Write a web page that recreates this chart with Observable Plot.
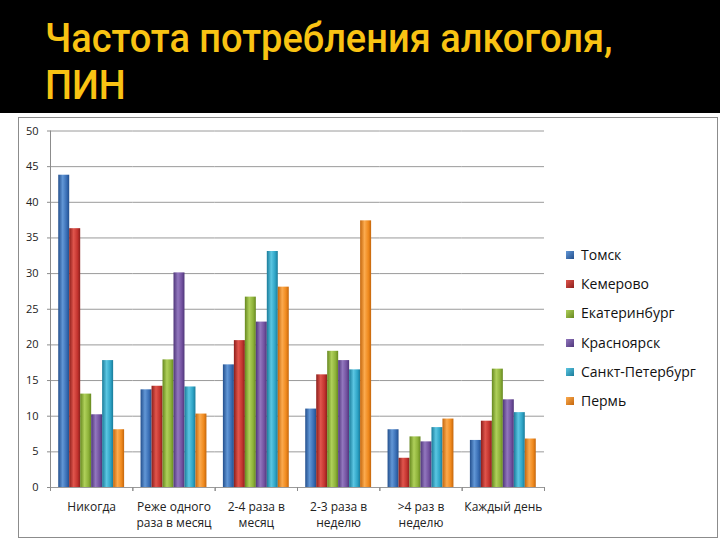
<!DOCTYPE html>
<html><head><meta charset="utf-8">
<script src="https://cdn.jsdelivr.net/npm/d3@7"></script>
<script src="https://cdn.jsdelivr.net/npm/@observablehq/plot@0.6"></script>
<style>
html,body{margin:0;padding:0;background:#fff;}
#page{position:relative;width:720px;height:540px;overflow:hidden;font-family:"Open Sans",sans-serif;background:#fff;}
#header{position:absolute;left:0;top:0;width:720px;height:113px;background:#000;}
.tline{position:absolute;left:45px;color:#F9C313;font-family:Roboto,sans-serif;font-size:40px;font-weight:500;line-height:46px;height:46px;white-space:nowrap;transform:scaleX(0.95);transform-origin:0 0;}
#t1{top:16px;}
#t2{top:63px;}
#box{position:absolute;left:18px;top:117px;width:700px;height:421px;border:1px solid #8c8c8c;box-sizing:border-box;}
#chart{position:absolute;left:0;top:113px;}
#legend{position:absolute;left:566px;top:240px;font-size:14px;color:#111;}
#legend div{height:29.2px;line-height:29.2px;white-space:nowrap;}
#legend span.sw{display:inline-block;width:8px;height:8px;margin-right:7px;vertical-align:middle;position:relative;top:-1px;}
#defs{position:absolute;width:0;height:0;}
</style></head>
<body>
<div id="page">
  <div id="header"><div class="tline" id="t1">Частота потребления алкоголя,</div><div class="tline" id="t2">ПИН</div></div>
  <div id="box"></div>
  <svg id="defs"><defs id="gdefs"></defs></svg>
  <div id="chart"></div>
  <div id="legend"></div>
</div>
<script>
const categories = ["Никогда","Реже одного раза в месяц","2-4 раза в месяц","2-3 раза в неделю",">4 раз в неделю","Каждый день"];
const tickLabels = ["Никогда","Реже одного\nраза в месяц","2-4 раза в\nмесяц","2-3 раза в\nнеделю",">4 раз в\nнеделю","Каждый день"];
const cities = ["Томск","Кемерово","Екатеринбург","Красноярск","Санкт-Петербург","Пермь"];
const tomsk        = [43.8, 13.7, 17.2, 11.0, 8.1, 6.6];
const kemerovo     = [36.3, 14.2, 20.6, 15.8, 4.1, 9.3];
const ekaterinburg = [13.1, 17.9, 26.7, 19.1, 7.1, 16.6];
const krasnoyarsk  = [10.2, 30.1, 23.2, 17.8, 6.4, 12.3];
const spb          = [17.8, 14.1, 33.1, 16.5, 8.4, 10.5];
const perm         = [8.1, 10.3, 28.1, 37.4, 9.6, 6.8];
const yTicks = [0, 5, 10, 15, 20, 25, 30, 35, 40, 45, 50];
const baseColors  = ["#3A6FB6", "#C3342F", "#8EB23A", "#7352A0", "#2FA5C7", "#F08A1E"];
const darkColors  = ["#234F8D", "#8C1E1B", "#66881F", "#4F367A", "#1A7B99", "#C4660C"];
const lightColors = ["#6297D6", "#E0554C", "#AFD05A", "#9277BE", "#5BC6E2", "#FBAA4E"];

// gradients for the bar shading
const defs = d3.select("#gdefs");
cities.forEach((c, j) => {
  const g = defs.append("linearGradient").attr("id", "g" + j).attr("x1", 0).attr("x2", 1).attr("y1", 0).attr("y2", 0);
  g.append("stop").attr("offset", "0%").attr("stop-color", darkColors[j]);
  g.append("stop").attr("offset", "40%").attr("stop-color", lightColors[j]);
  g.append("stop").attr("offset", "75%").attr("stop-color", baseColors[j]);
  g.append("stop").attr("offset", "100%").attr("stop-color", darkColors[j]);
});
const fills = cities.map((c, j) => `url(#g${j})`);

const series = [tomsk, kemerovo, ekaterinburg, krasnoyarsk, spb, perm];
const data = [];
categories.forEach((cat, i) => cities.forEach((city, j) => data.push({category: cat, city, value: series[j][i]})));

const chart = Plot.plot({
  width: 720, height: 427,
  marginTop: 17.5, marginBottom: 53, marginLeft: 50, marginRight: 176,
  style: {fontFamily: '"Open Sans", sans-serif', fontSize: "11px", color: "#222", background: "transparent"},
  fx: {domain: categories, padding: 0, round: false, axis: null, label: null},
  x: {domain: cities, paddingInner: 0, paddingOuter: 0.75, round: false, axis: null, label: null},
  y: {domain: [0, 50], axis: null, label: null},
  color: {domain: cities, range: fills},
  marks: [
    Plot.gridY(yTicks, {stroke: "#9a9a9a", strokeOpacity: 1}),
    Plot.barY(data, {fx: "category", x: "city", y: "value", fill: "city"}),
    Plot.frame({anchor: "left", stroke: "#8c8c8c", fx: () => categories[0]}),
    Plot.axisY(yTicks, {tickSize: 3, tickPadding: 9, stroke: "#8c8c8c", fill: "#222", fontSize: 11, label: null}),
    Plot.axisFx({anchor: "bottom", tickSize: 0, tickPadding: 12, label: null, fontSize: 12, fill: "#222", lineHeight: 1.35,
      tickFormat: d => tickLabels[categories.indexOf(d)]}),
    Plot.axisFx({anchor: "bottom", tickSize: 4, label: null, tickFormat: () => "", dx: -41.17, stroke: "#8c8c8c"}),
    Plot.axisFx({anchor: "bottom", tickSize: 4, label: null, tickFormat: () => "", dx: 41.17, stroke: "#8c8c8c"})
  ]
});
document.getElementById("chart").appendChild(chart);

const legend = d3.select("#legend");
cities.forEach((c, j) => {
  const row = legend.append("div");
  row.append("span").attr("class", "sw").style("background", `linear-gradient(135deg, ${lightColors[j]}, ${darkColors[j]})`);
  row.append("span").text(c);
});
</script>
</body></html>
